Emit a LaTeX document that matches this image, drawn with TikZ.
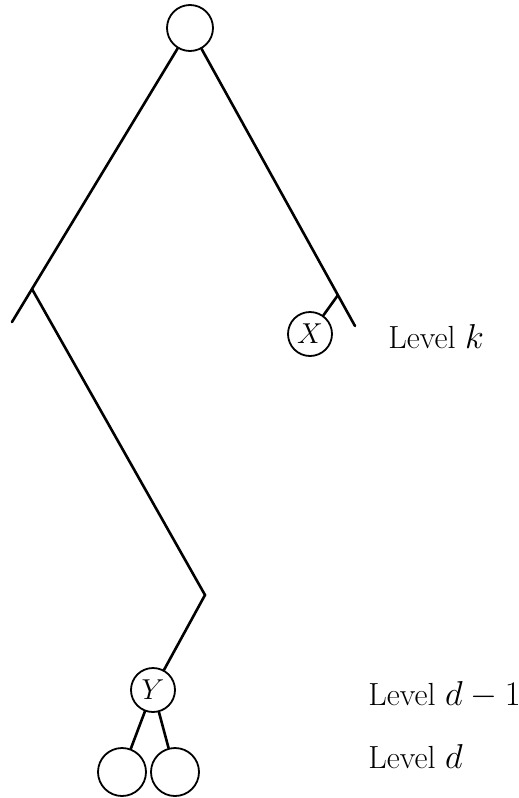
\documentclass[tikz,border=0pt]{standalone}
\usepackage{amsmath,amssymb}
\usepackage{xcolor}
\usepackage{tikz}
\usetikzlibrary{positioning}

\begin{document}
\begin{tikzpicture}[
    x=0.5pt,y=-0.5pt,
    vertex/.style={circle,draw=black,line width=0.9pt,minimum size=23pt,inner sep=0pt,
      font=\fontsize{14}{16}\selectfont},
    leaf/.style={vertex,minimum size=24pt},
    edge/.style={line width=1.3pt,draw=black,line cap=round,line join=miter},
    levellabel/.style={anchor=base west,inner sep=0pt,font=\fontsize{16}{19}\selectfont}
]
\useasboundingbox (0,0) rectangle (519,798);

% nodes of the tree
\node[vertex] (root) at (190,28) {};
\node[vertex,minimum size=22pt] (X) at (310,334) {$X$};
\node[vertex,minimum size=22pt] (Y) at (153,690) {$Y$};
\node[leaf] (leafa) at (122,772) {};
\node[leaf] (leafb) at (175,772) {};

% free ends and bends of the long paths
\coordinate (lend) at (12,322);
\coordinate (lbr) at (32,289);
\coordinate (rend) at (355,326);
\coordinate (rbr) at (338,295);
\coordinate (bend) at (205,595);

\draw[edge] (root) -- (lend);
\draw[edge] (root) -- (rend);
\draw[edge] (rbr) -- (X);
\draw[edge] (lbr) -- (bend) -- (Y);
\draw[edge] (Y) -- (leafa);
\draw[edge] (Y) -- (leafb);

% level labels
\node[levellabel] (levk) at (388,348) {Level $k$};
\node[levellabel] (levdm) at (368,705) {Level $d-1$};
\node[levellabel] (levd) at (368,768) {Level $d$};
\end{tikzpicture}
\end{document}
